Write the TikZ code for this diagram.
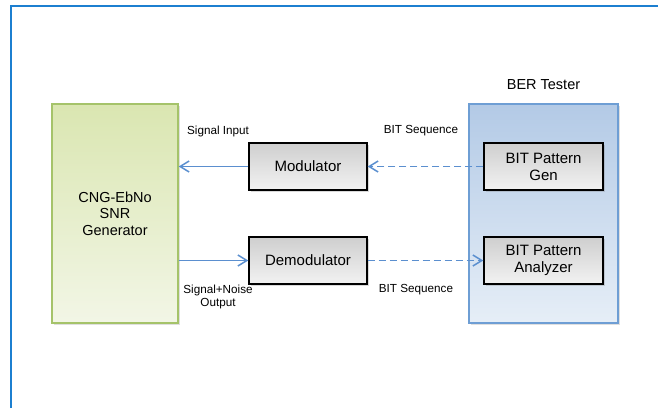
\documentclass[tikz,border=0pt]{standalone}
\usepackage{fontspec}
\setmainfont{Liberation Sans}
\usetikzlibrary{arrows.meta, positioning, shadows}
\definecolor{framebl}{HTML}{1C7FD0}
\definecolor{linkbl}{HTML}{5B8FCF}
\definecolor{grnedge}{HTML}{A5C36A}
\definecolor{grntop}{HTML}{DAE6B1}
\definecolor{grnbot}{HTML}{F2F6E6}
\definecolor{bluedge}{HTML}{6E9ED4}
\definecolor{bluetop}{HTML}{B3CAE6}
\definecolor{blubot}{HTML}{E6EEF7}
\tikzset{x = 1pt, y = -1pt,
         >= {Straight Barb[length = 9pt, width = 11pt]},
         bigbox/.style = {draw, line width = 1.4pt, minimum width = 126pt,
                          minimum height = 219pt, align = center,
                          font = \fontsize{14.5}{16.5}\selectfont,
                          drop shadow = {opacity = 0.25, shadow xshift = 2pt,
                                         shadow yshift = -2pt}},
         blockbox/.style = {draw = black, line width = 1.4pt, minimum width = 118pt,
                            minimum height = 47pt, align = center,
                            top color = black!19, bottom color = black!5,
                            font = \fontsize{15}{17}\selectfont,
                            drop shadow = {opacity = 0.3, shadow xshift = 2pt,
                                           shadow yshift = -2pt}},
         linklbl/.style = {font = \fontsize{11.7}{13}\selectfont, align = center},
         solidlink/.style = {->, draw = linkbl, line width = 1.5pt},
         dashlink/.style = {->, draw = linkbl, line width = 1.5pt,
                            dash pattern = on 7pt off 4pt}}

\begin{document}
\begin{tikzpicture}
        \useasboundingbox (0,0) rectangle (658,408);
        \draw[framebl, line width = 1.3pt] (11,408) -- (11,6) -- (658,6);

        \node[bigbox, draw = grnedge, top color = grntop, bottom color = grnbot]
              (cng)  at (115,213.5)          {CNG-EbNo\\SNR\\Generator};
        \node[bigbox, draw = bluedge, top color = bluetop, bottom color = blubot,
              minimum width = 149pt]
              (ber)  at (543.5,213.5)        {};
        \node[font = \fontsize{14.5}{16}\selectfont]
              (bertitle) [above = 10pt of ber.north]  {BER Tester};

        \node[blockbox] (mod)   at (308,166.5)   {Modulator};
        \node[blockbox] (demod) at (308,260.5)   {Demodulator};
        \node[blockbox, minimum width = 119pt] (patgen) at (543.5,166.5) {BIT Pattern\\Gen};
        \node[blockbox, minimum width = 119pt] (patana) at (543.5,260.5) {BIT Pattern\\Analyzer};

        \path[solidlink] (mod.west)    -- (cng.east |- mod.west);
        \path[solidlink] (cng.east |- demod.west) -- (demod.west);
        \path[dashlink]  (patgen.west) -- (mod.east);
        \path[dashlink]  (demod.east)  -- (patana.west);

        \node[linklbl] (siginlbl)  at (218,131)   {Signal Input};
        \node[linklbl] (sigoutlbl) at (218,297)   {Signal+Noise\\Output};
        \node[linklbl] (seqtop)    at (421,131)   {BIT Sequence};
        \node[linklbl] (seqbot)    at (416,290)   {BIT Sequence};
    \end{tikzpicture}
\end{document}
